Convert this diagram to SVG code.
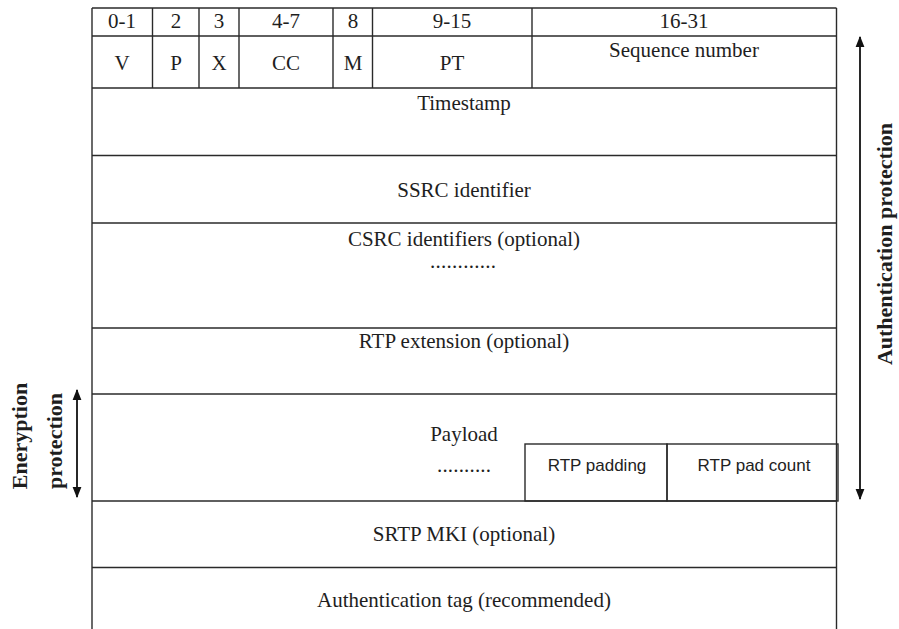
<svg xmlns="http://www.w3.org/2000/svg" width="899" height="629" viewBox="0 0 899 629">
<defs>
<style>
.ln{stroke:#2a2a2a;stroke-width:1.4;fill:none}
.t{font-family:"Liberation Serif","Times New Roman",serif;font-size:21px;fill:#1e1e1e;text-anchor:middle}
.s{font-family:"Liberation Sans",Arial,sans-serif;font-size:17px;fill:#222;text-anchor:middle}
.b{font-family:"Liberation Serif","Times New Roman",serif;font-size:22px;font-weight:bold;fill:#1e1e1e;text-anchor:middle}
.ar{stroke:#111;stroke-width:1.8;fill:none}
</style>
<marker id="ah" viewBox="0 0 10 10" refX="9" refY="5" markerWidth="11" markerHeight="11" markerUnits="userSpaceOnUse" orient="auto-start-reverse">
<path d="M0,1 L10,5 L0,9 Z" fill="#111"/>
</marker>
</defs>
<rect width="899" height="629" fill="#fff"/>

<g id="table-frame">
<line class="ln" x1="92" y1="8" x2="92" y2="629"/>
<line class="ln" x1="836.5" y1="8" x2="836.5" y2="629"/>
<line class="ln" x1="92" y1="8" x2="836.5" y2="8"/>
<line class="ln" x1="92" y1="36" x2="836.5" y2="36"/>
<line class="ln" x1="92" y1="88" x2="836.5" y2="88"/>
<line class="ln" x1="92" y1="155.5" x2="836.5" y2="155.5"/>
<line class="ln" x1="92" y1="223" x2="836.5" y2="223"/>
<line class="ln" x1="92" y1="328" x2="836.5" y2="328"/>
<line class="ln" x1="92" y1="394" x2="836.5" y2="394"/>
<line class="ln" x1="92" y1="501" x2="836.5" y2="501"/>
<line class="ln" x1="92" y1="567.5" x2="836.5" y2="567.5"/>
<line class="ln" x1="152.5" y1="8" x2="152.5" y2="88"/>
<line class="ln" x1="199" y1="8" x2="199" y2="88"/>
<line class="ln" x1="239" y1="8" x2="239" y2="88"/>
<line class="ln" x1="333" y1="8" x2="333" y2="88"/>
<line class="ln" x1="372.5" y1="8" x2="372.5" y2="88"/>
<line class="ln" x1="532" y1="8" x2="532" y2="88"/>
</g>

<g id="header-bits">
<text class="t" x="122" y="28">0-1</text>
<text class="t" x="176" y="28">2</text>
<text class="t" x="219" y="28">3</text>
<text class="t" x="286" y="28">4-7</text>
<text class="t" x="353" y="28">8</text>
<text class="t" x="452" y="28">9-15</text>
<text class="t" x="684" y="28">16-31</text>
</g>

<g id="field-V"><text class="t" x="122" y="70">V</text></g>
<g id="field-P"><text class="t" x="176" y="70">P</text></g>
<g id="field-X"><text class="t" x="219" y="70">X</text></g>
<g id="field-CC"><text class="t" x="286" y="70">CC</text></g>
<g id="field-M"><text class="t" x="353" y="70">M</text></g>
<g id="field-PT"><text class="t" x="452" y="70">PT</text></g>
<g id="field-seq"><text class="t" x="684" y="57">Sequence number</text></g>

<g id="timestamp"><text class="t" x="464" y="110">Timestamp</text></g>
<g id="ssrc"><text class="t" x="464" y="197">SSRC identifier</text></g>
<g id="csrc">
<text class="t" x="464" y="246">CSRC identifiers (optional)</text>
<text class="t" x="463" y="268" textLength="66" lengthAdjust="spacing">............</text>
</g>
<g id="rtp-ext"><text class="t" x="464" y="348">RTP extension (optional)</text></g>
<g id="payload">
<text class="t" x="464" y="441">Payload</text>
<text class="t" x="464" y="472" textLength="54" lengthAdjust="spacing">..........</text>
</g>
<g id="rtp-padding">
<rect class="ln" x="525" y="444" width="142" height="57"/>
<text class="s" x="597" y="471">RTP padding</text>
</g>
<g id="rtp-pad-count">
<rect class="ln" x="667" y="444" width="171" height="57"/>
<text class="s" x="754" y="471">RTP pad count</text>
</g>
<g id="srtp-mki"><text class="t" x="464" y="541">SRTP MKI (optional)</text></g>
<g id="auth-tag"><text class="t" x="464" y="607">Authentication tag (recommended)</text></g>

<g id="connectors">
<line class="ar" x1="860" y1="37" x2="860" y2="499" marker-start="url(#ah)" marker-end="url(#ah)"/>
<line class="ar" x1="77" y1="390" x2="77" y2="497" marker-start="url(#ah)" marker-end="url(#ah)"/>
</g>

<g id="auth-label"><text class="b" transform="translate(892,244) rotate(-90)">Authentication protection</text></g>
<g id="enc-label">
<text class="b" transform="translate(27,436) rotate(-90)">Eneryption</text>
<text class="b" transform="translate(62,441) rotate(-90)">protection</text>
</g>
</svg>
